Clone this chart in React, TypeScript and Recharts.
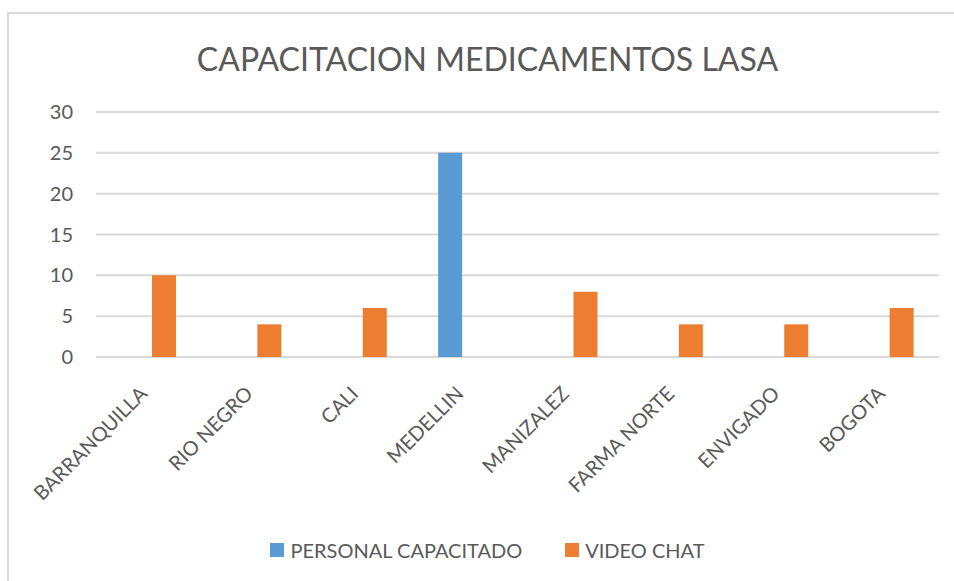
import React from 'react'
import { BarChart, Bar, XAxis, YAxis, CartesianGrid, Legend } from 'recharts'

const cities = ['BARRANQUILLA', 'RIO NEGRO', 'CALI', 'MEDELLIN', 'MANIZALEZ', 'FARMA NORTE', 'ENVIGADO', 'BOGOTA']
const personalCapacitado = [0, 0, 0, 25, 0, 0, 0, 0]
const videoChat = [10, 4, 6, 0, 8, 4, 4, 6]
const yTicks = [0, 5, 10, 15, 20, 25, 30]

const BLUE = '#5B9BD5'
const ORANGE = '#ED7D31'
const TEXT = '#595959'
const FONT = 'Lato, "Open Sans", sans-serif'

const chartData = cities.map((city, i) => ({
  city,
  personal: personalCapacitado[i],
  video: videoChat[i],
}))

function CityTick(props: any) {
  const { x, y, payload } = props
  const ty = y + 38
  return (
    <text
      x={x}
      y={ty}
      transform={`rotate(-45, ${x}, ${ty})`}
      textAnchor="end"
      fill={TEXT}
      fontSize={20}
      fontFamily={FONT}
    >
      {payload.value}
    </text>
  )
}

function LegendBox() {
  const items = [
    { label: 'PERSONAL CAPACITADO', color: BLUE },
    { label: 'VIDEO CHAT', color: ORANGE },
  ]
  return (
    <div
      style={{
        display: 'flex',
        justifyContent: 'center',
        alignItems: 'center',
        height: 38,
        marginTop: 12,
        paddingLeft: 36,
        gap: 43,
        fontFamily: FONT,
        fontSize: 20,
        color: TEXT,
      }}
    >
      {items.map(it => (
        <div key={it.label} style={{ display: 'flex', alignItems: 'center' }}>
          <span style={{ width: 14, height: 14, background: it.color, marginRight: 6, display: 'inline-block' }} />
          <span>{it.label}</span>
        </div>
      ))}
    </div>
  )
}

export default function App() {
  return (
    <div style={{ position: 'fixed', left: 0, top: 0, width: 954, height: 581, overflow: 'hidden', background: '#fff' }}>
      {/* chart frame, only top and left edges show in the picture */}
      <div
        style={{
          position: 'absolute',
          left: 7,
          top: 12,
          width: 1000,
          height: 1000,
          borderTop: '2px solid #d9d9d9',
          borderLeft: '2px solid #d9d9d9',
        }}
      />
      <div
        style={{
          position: 'absolute',
          left: 0,
          width: 975,
          top: 40,
          textAlign: 'center',
          fontFamily: FONT,
          fontSize: 32,
          lineHeight: 1.2,
          color: TEXT,
        }}
      >
        CAPACITACION MEDICAMENTOS LASA
      </div>
      <div style={{ position: 'absolute', left: 0, top: 0 }}>
        <BarChart
          width={954}
          height={581}
          data={chartData}
          margin={{ top: 112, right: 15, bottom: 12, left: 0 }}
          barSize={24}
          barGap={6}
        >
          <CartesianGrid vertical={false} stroke="#d9d9d9" strokeWidth={2} />
          <XAxis
            dataKey="city"
            axisLine={false}
            tickLine={false}
            tickSize={0}
            tickMargin={0}
            interval={0}
            height={162}
            tick={<CityTick />}
          />
          <YAxis
            domain={[0, 30]}
            ticks={yTicks}
            width={96}
            axisLine={false}
            tickLine={false}
            tickSize={0}
            tickMargin={23}
            tick={{ fill: TEXT, fontSize: 20, fontFamily: FONT }}
          />
          <Legend verticalAlign="bottom" height={50} content={<LegendBox />} />
          <Bar dataKey="personal" name="PERSONAL CAPACITADO" fill={BLUE} isAnimationActive={false} />
          <Bar dataKey="video" name="VIDEO CHAT" fill={ORANGE} isAnimationActive={false} />
        </BarChart>
      </div>
    </div>
  )
}
